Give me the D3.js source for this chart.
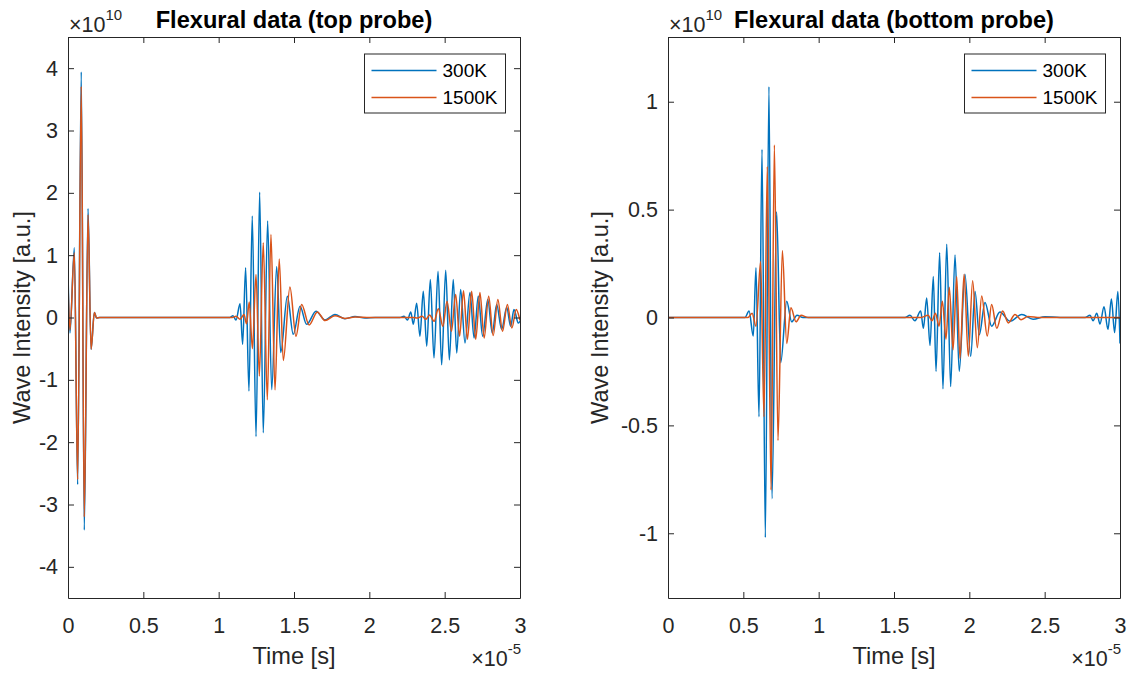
<!DOCTYPE html>
<html>
<head>
<meta charset="utf-8">
<script src="https://cdn.jsdelivr.net/npm/d3@7"></script>
<style>
  body { margin: 0; background: #fff; }
  text { font-family: "Liberation Sans", Arial, Helvetica, sans-serif; }
</style>
</head>
<body>
<svg id="chart" width="1134" height="673"></svg>
<script>
// time in units of 1e-5 s, intensity in units of 1e10 (extrema only)
const seriesNames = ["300K", "1500K"];
const xTicks = [0, 0.5, 1, 1.5, 2, 2.5, 3];
const xTickLabels = ["0", "0.5", "1", "1.5", "2", "2.5", "3"];
const topYTicks = [-4, -3, -2, -1, 0, 1, 2, 3, 4];
const topYTickLabels = ["-4", "-3", "-2", "-1", "0", "1", "2", "3", "4"];
const bottomYTicks = [-1, -0.5, 0, 0.5, 1];
const bottomYTickLabels = ["-1", "-0.5", "0", "0.5", "1"];

const top300 = [
  [0, 0.72], [0.013, -0.25], [0.042, 1.12], [0.064, -2.68], [0.088, 3.94], [0.108, -3.41],
  [0.133, 1.75], [0.153, -0.51], [0.175, 0.08], [0.19, -0.01], [0.21, 0],
  [1.075, 0], [1.095, 0.03], [1.115, -0.04], [1.142, 0.22], [1.159, -0.43], [1.179, 0.80],
  [1.201, -1.18], [1.223, 1.63], [1.248, -1.91], [1.272, 2.01], [1.296, -1.85], [1.325, 1.55],
  [1.352, -1.16], [1.385, 0.82], [1.412, -0.56], [1.456, 0.34], [1.495, -0.27], [1.540, 0.18],
  [1.584, -0.11], [1.646, 0.10], [1.706, -0.04], [1.772, 0.05], [1.838, -0.02], [1.905, 0.015],
  [1.971, -0.01], [2.038, 0],
  [2.203, 0], [2.230, 0.02], [2.253, -0.04], [2.275, 0.09], [2.292, -0.11], [2.314, 0.23],
  [2.336, -0.30], [2.358, 0.42], [2.381, -0.46], [2.405, 0.61], [2.429, -0.65], [2.456, 0.74],
  [2.480, -0.76], [2.507, 0.76], [2.531, -0.68], [2.557, 0.61], [2.580, -0.57], [2.606, 0.45],
  [2.635, -0.41], [2.668, 0.40], [2.695, -0.33], [2.723, 0.34], [2.752, -0.30], [2.786, 0.29],
  [2.816, -0.25], [2.845, 0.21], [2.878, -0.19], [2.912, 0.16], [2.938, -0.14], [2.960, 0.13],
  [2.989, -0.09], [3.0, -0.06]
];

const top1500 = [
  [0, 0.55], [0.013, -0.2], [0.042, 1.04], [0.064, -2.6], [0.088, 3.71], [0.108, -3.2],
  [0.133, 1.65], [0.153, -0.51], [0.175, 0.08], [0.19, -0.01], [0.21, 0],
  [1.09, 0], [1.115, 0.02], [1.142, -0.03], [1.168, 0.05], [1.185, -0.1], [1.203, 0.25],
  [1.224, -0.5], [1.248, 0.69], [1.270, -0.94], [1.296, 1.2], [1.323, -1.32], [1.347, 1.33],
  [1.374, -1.16], [1.402, 0.94], [1.429, -0.69], [1.473, 0.49], [1.513, -0.3], [1.551, 0.21],
  [1.600, -0.12], [1.655, 0.09], [1.706, -0.05], [1.772, 0.03], [1.838, -0.015], [1.905, 0.01],
  [2.004, 0],
  [2.29, 0], [2.32, -0.01], [2.35, 0.02], [2.375, -0.03], [2.40, 0.04], [2.43, -0.06],
  [2.458, 0.14], [2.488, -0.14], [2.516, 0.26], [2.545, -0.22], [2.573, 0.37], [2.599, -0.30],
  [2.625, 0.43], [2.651, -0.35], [2.679, 0.42], [2.706, -0.35], [2.734, 0.40], [2.762, -0.33],
  [2.792, 0.34], [2.822, -0.29], [2.853, 0.29], [2.884, -0.22], [2.916, 0.21], [2.946, -0.17],
  [2.975, 0.13], [3.0, -0.05]
];

const bottom300 = [
  [0, 0], [0.511, 0], [0.538, 0.03], [0.566, -0.086], [0.584, 0.23], [0.604, -0.46],
  [0.624, 0.78], [0.646, -1.02], [0.670, 1.07], [0.690, -0.84], [0.721, 0.49], [0.748, -0.21],
  [0.788, 0.075], [0.821, -0.02], [0.856, 0.01], [0.896, 0],
  [1.573, 0], [1.606, 0.01], [1.639, -0.015], [1.677, 0.03], [1.695, -0.05], [1.717, 0.09],
  [1.739, -0.13], [1.761, 0.19], [1.779, -0.25], [1.803, 0.30], [1.825, -0.33], [1.850, 0.34],
  [1.876, -0.32], [1.905, 0.29], [1.933, -0.25], [1.971, 0.20], [2.009, -0.18], [2.038, 0.12],
  [2.066, -0.08], [2.104, 0.07], [2.148, -0.04], [2.203, 0.025], [2.270, -0.017], [2.348, 0.014],
  [2.423, -0.008], [2.502, 0.004], [2.602, 0],
  [2.768, 0], [2.801, 0.01], [2.821, -0.015], [2.846, 0.02], [2.867, -0.03], [2.894, 0.05],
  [2.920, -0.055], [2.943, 0.086], [2.964, -0.07], [2.986, 0.12], [3.0, -0.12]
];

const bottom1500 = [
  [0, 0], [0.531, 0], [0.558, 0.02], [0.584, -0.04], [0.615, 0.26], [0.637, -0.46],
  [0.659, 0.70], [0.684, -0.80], [0.706, 0.80], [0.730, -0.57], [0.759, 0.31], [0.788, -0.12],
  [0.816, 0.045], [0.850, -0.02], [0.883, 0.01], [0.929, 0],
  [1.68, 0], [1.726, 0.01], [1.752, -0.015], [1.775, 0.02], [1.799, -0.04], [1.821, 0.075],
  [1.845, -0.10], [1.867, 0.14], [1.892, -0.15], [1.916, 0.19], [1.938, -0.19], [1.965, 0.20],
  [1.993, -0.18], [2.022, 0.17], [2.053, -0.14], [2.082, 0.10], [2.119, -0.086], [2.148, 0.06],
  [2.182, -0.05], [2.221, 0.03], [2.259, -0.025], [2.303, 0.014], [2.343, -0.01], [2.389, 0.005],
  [2.469, 0], [3.0, 0]
];

const colors = ["#0072BD", "#D95319"];
const axisColor = "#262626";
const plotTop = 37, plotBottom = 598;

const panels = [
  { id: "top", title: "Flexural data (top probe)", left: 68, right: 520, yDomain: [-4.5, 4.5],
    yTicks: topYTicks, yLabels: topYTickLabels, series: [top300, top1500], ylabelX: 30, legendX: 364.5 },
  { id: "bottom", title: "Flexural data (bottom probe)", left: 668, right: 1120, yDomain: [-1.3, 1.3],
    yTicks: bottomYTicks, yLabels: bottomYTickLabels, series: [bottom300, bottom1500], ylabelX: 608, legendX: 964.5 }
];

const svg = d3.select("#chart");

function styleAxis(g, size) {
  g.attr("color", axisColor)
    .attr("font-size", size)
    .attr("font-family", "'Liberation Sans', Arial, sans-serif");
  g.selectAll("line").attr("stroke-width", 1);
  g.select(".domain").attr("stroke-width", 1);
}

function drawPanel(p) {
  const x = d3.scaleLinear().domain([0, 3]).range([p.left, p.right]);
  const y = d3.scaleLinear().domain(p.yDomain).range([plotBottom, plotTop]);
  const g = svg.append("g");

  g.append("clipPath").attr("id", p.id + "-clip")
    .append("rect")
    .attr("x", p.left).attr("y", plotTop)
    .attr("width", p.right - p.left).attr("height", plotBottom - plotTop);

  const line = d3.line()
    .x(d => x(d[0]))
    .y(d => y(d[1]))
    .curve(d3.curveMonotoneX);

  p.series.forEach((s, i) => {
    g.append("path")
      .attr("d", line(s))
      .attr("fill", "none")
      .attr("stroke", colors[i])
      .attr("stroke-width", 1.5)
      .attr("stroke-linejoin", "round")
      .attr("clip-path", `url(#${p.id}-clip)`);
  });

  // box with inward ticks on all four sides
  g.append("g").attr("transform", `translate(0,${plotBottom})`)
    .call(d3.axisBottom(x).tickValues(xTicks).tickFormat((d, i) => xTickLabels[i])
      .tickSize(-6).tickSizeOuter(0).tickPadding(20))
    .call(a => styleAxis(a, 21.5));
  g.append("g").attr("transform", `translate(0,${plotTop})`)
    .call(d3.axisTop(x).tickValues(xTicks).tickFormat("").tickSize(-6).tickSizeOuter(0))
    .call(a => styleAxis(a, 21.5));
  g.append("g").attr("transform", `translate(${p.left},0)`)
    .call(d3.axisLeft(y).tickValues(p.yTicks).tickFormat((d, i) => p.yLabels[i])
      .tickSize(-6).tickSizeOuter(0).tickPadding(10))
    .call(a => styleAxis(a, 21.5));
  g.append("g").attr("transform", `translate(${p.right},0)`)
    .call(d3.axisRight(y).tickValues(p.yTicks).tickFormat("").tickSize(-6).tickSizeOuter(0))
    .call(a => styleAxis(a, 21.5));

  const cx = (p.left + p.right) / 2;

  g.append("text")
    .attr("x", cx).attr("y", 28)
    .attr("text-anchor", "middle")
    .attr("font-size", 23.6).attr("font-weight", "bold")
    .attr("fill", "#000")
    .text(p.title);

  // exponent of y axis
  const ey = g.append("text")
    .attr("x", p.left + 1).attr("y", 32)
    .attr("font-size", 21.5).attr("fill", axisColor);
  ey.append("tspan").text("\u00d710");
  ey.append("tspan").attr("font-size", 15).attr("dy", -12).text("10");

  g.append("text")
    .attr("x", cx).attr("y", 664)
    .attr("text-anchor", "middle")
    .attr("font-size", 23.6).attr("fill", axisColor)
    .text("Time [s]");

  // exponent of x axis
  const ex = g.append("text")
    .attr("x", p.right + 1).attr("y", 666)
    .attr("text-anchor", "end")
    .attr("font-size", 21.5).attr("fill", axisColor);
  ex.append("tspan").text("\u00d710");
  ex.append("tspan").attr("font-size", 15).attr("dy", -12).text("-5");

  g.append("text")
    .attr("transform", `translate(${p.ylabelX},${(plotTop + plotBottom) / 2}) rotate(-90)`)
    .attr("text-anchor", "middle")
    .attr("font-size", 23.6).attr("fill", axisColor)
    .text("Wave Intensity [a.u.]");

  // legend
  const lg = g.append("g").attr("transform", `translate(${p.legendX},54)`);
  lg.append("rect")
    .attr("width", 141).attr("height", 59)
    .attr("fill", "#fff").attr("stroke", axisColor).attr("stroke-width", 1);
  seriesNames.forEach((name, i) => {
    const ly = 16.5 + i * 27;
    lg.append("line")
      .attr("x1", 7).attr("x2", 72).attr("y1", ly).attr("y2", ly)
      .attr("stroke", colors[i]).attr("stroke-width", 1.5);
    lg.append("text")
      .attr("x", 78).attr("y", ly).attr("dy", "0.35em")
      .attr("font-size", 19).attr("fill", "#000")
      .text(name);
  });
}

panels.forEach(drawPanel);
</script>
</body>
</html>
